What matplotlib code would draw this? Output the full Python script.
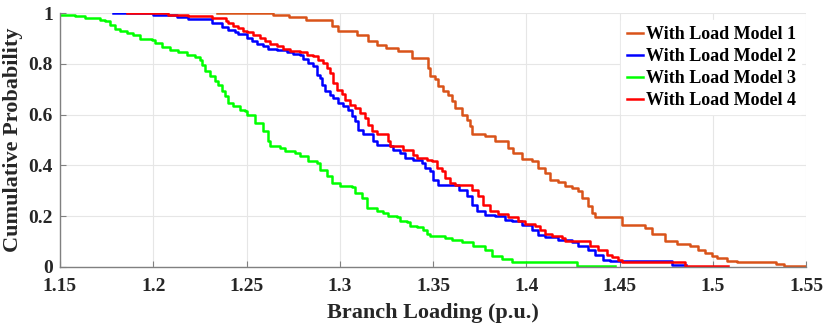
import matplotlib
matplotlib.use("Agg")
import matplotlib.pyplot as plt

# step points (branch loading, cumulative probability) for each load model
m1_x = [1.234, 1.264, 1.273, 1.282, 1.296, 1.299, 1.309, 1.315, 1.320, 1.325, 1.331, 1.339,
        1.3473, 1.3484, 1.3511, 1.3527, 1.3554, 1.3580, 1.3602, 1.3618, 1.3655, 1.3682, 1.3698,
        1.3709, 1.3779, 1.3832, 1.3902, 1.3929, 1.3977, 1.4031, 1.4063, 1.4101, 1.4127, 1.4170,
        1.4208, 1.4245, 1.4278, 1.4299, 1.4331, 1.4353, 1.4369, 1.4513, 1.4637, 1.4674, 1.4744,
        1.4808, 1.4878, 1.4921, 1.4958, 1.4996, 1.5020, 1.5076, 1.5130, 1.5340, 1.5380, 1.5500]
m1_y = [1.000, 0.991, 0.983, 0.974, 0.950, 0.930, 0.915, 0.890, 0.875, 0.862, 0.849, 0.823,
        0.783, 0.752, 0.741, 0.713, 0.693, 0.677, 0.654, 0.626, 0.598, 0.580, 0.555,
        0.524, 0.515, 0.495, 0.469, 0.449, 0.426, 0.416, 0.390, 0.370, 0.344, 0.333,
        0.318, 0.311, 0.298, 0.272, 0.239, 0.213, 0.196, 0.164, 0.154, 0.131, 0.101,
        0.091, 0.081, 0.068, 0.055, 0.042, 0.035, 0.025, 0.018, 0.012, 0.005, 0.005]

m2_x = [1.1784, 1.1999, 1.2127, 1.2186, 1.2315, 1.2369, 1.2401, 1.2438, 1.2454, 1.2503, 1.2529,
        1.2556, 1.2588, 1.2615, 1.2664, 1.2717, 1.2749, 1.2787, 1.2803, 1.2830, 1.2857, 1.2878,
        1.2894, 1.2905, 1.2921, 1.2948, 1.2964, 1.2991, 1.3017, 1.3044, 1.3066, 1.3082, 1.3098,
        1.3125, 1.3180, 1.3200, 1.3269, 1.3286, 1.3323, 1.3350, 1.3393, 1.3441, 1.3457, 1.3484,
        1.3500, 1.3527, 1.3640, 1.3682, 1.3709, 1.3736, 1.3779, 1.3832, 1.3886, 1.3924, 1.3977,
        1.4031, 1.4063, 1.4101, 1.4170, 1.4245, 1.4278, 1.4331, 1.4369, 1.4412, 1.4450, 1.4780,
        1.4855]
m2_y = [1.000, 0.991, 0.983, 0.976, 0.961, 0.944, 0.935, 0.925, 0.917, 0.902, 0.889,
        0.878, 0.869, 0.860, 0.853, 0.845, 0.839, 0.836, 0.820, 0.803, 0.790, 0.757,
        0.744, 0.718, 0.692, 0.678, 0.665, 0.646, 0.633, 0.619, 0.593, 0.574, 0.541,
        0.524, 0.495, 0.482, 0.475, 0.462, 0.449, 0.429, 0.422, 0.409, 0.390, 0.377,
        0.344, 0.324, 0.304, 0.278, 0.245, 0.219, 0.206, 0.199, 0.186, 0.180, 0.164,
        0.147, 0.127, 0.117, 0.107, 0.098, 0.081, 0.068, 0.048, 0.029, 0.022, 0.006,
        0.006]

m3_x = [1.1500, 1.1580, 1.1634, 1.1714, 1.1741, 1.1768, 1.1795, 1.1822, 1.1859, 1.1891, 1.1929,
        1.1993, 1.2009, 1.2047, 1.2090, 1.2133, 1.2181, 1.2224, 1.2251, 1.2261, 1.2277, 1.2304,
        1.2331, 1.2347, 1.2369, 1.2385, 1.2401, 1.2428, 1.2465, 1.2492, 1.2503, 1.2546, 1.2588,
        1.2615, 1.2626, 1.2680, 1.2706, 1.2760, 1.2787, 1.2830, 1.2878, 1.2894, 1.2932, 1.2958,
        1.3001, 1.3066, 1.3082, 1.3119, 1.3146, 1.3200, 1.3232, 1.3259, 1.3307, 1.3323, 1.3361,
        1.3377, 1.3414, 1.3446, 1.3468, 1.3484, 1.3564, 1.3602, 1.3656, 1.3714, 1.3779, 1.3816,
        1.3870, 1.3924, 1.4272, 1.4476]
m3_y = [0.993, 0.987, 0.980, 0.974, 0.967, 0.954, 0.938, 0.930, 0.921, 0.912, 0.899,
        0.895, 0.882, 0.865, 0.856, 0.846, 0.836, 0.826, 0.816, 0.797, 0.771, 0.751,
        0.731, 0.715, 0.694, 0.672, 0.646, 0.633, 0.619, 0.613, 0.600, 0.567, 0.534,
        0.495, 0.475, 0.469, 0.456, 0.449, 0.436, 0.419, 0.409, 0.383, 0.357, 0.331,
        0.318, 0.314, 0.291, 0.272, 0.232, 0.222, 0.213, 0.200, 0.196, 0.180, 0.177,
        0.160, 0.156, 0.147, 0.130, 0.121, 0.114, 0.107, 0.098, 0.081, 0.068, 0.042,
        0.033, 0.020, 0.005, 0.005]

m4_x = [1.1859, 1.2079, 1.2186, 1.2315, 1.2390, 1.2401, 1.2428, 1.2454, 1.2481, 1.2503, 1.2535,
        1.2572, 1.2599, 1.2626, 1.2664, 1.2696, 1.2733, 1.2787, 1.2824, 1.2857, 1.2883, 1.2910,
        1.2932, 1.2948, 1.2964, 1.2985, 1.3012, 1.3028, 1.3055, 1.3082, 1.3109, 1.3136, 1.3152,
        1.3173, 1.3200, 1.3259, 1.3270, 1.3339, 1.3393, 1.3414, 1.3468, 1.3495, 1.3522, 1.3548,
        1.3565, 1.3592, 1.3618, 1.3709, 1.3741, 1.3768, 1.3806, 1.3848, 1.3902, 1.3956, 1.3994,
        1.4047, 1.4074, 1.4101, 1.4138, 1.4192, 1.4208, 1.4299, 1.4342, 1.4385, 1.4433, 1.4460,
        1.4490, 1.4513, 1.4850, 1.5080]
m4_y = [1.000, 0.994, 0.987, 0.980, 0.970, 0.961, 0.948, 0.939, 0.931, 0.925, 0.915,
        0.902, 0.889, 0.879, 0.871, 0.860, 0.852, 0.846, 0.836, 0.829, 0.816, 0.803,
        0.783, 0.764, 0.724, 0.698, 0.681, 0.659, 0.639, 0.626, 0.606, 0.587, 0.560,
        0.534, 0.524, 0.495, 0.475, 0.462, 0.442, 0.429, 0.422, 0.416, 0.390, 0.377,
        0.350, 0.331, 0.324, 0.304, 0.278, 0.245, 0.219, 0.209, 0.196, 0.182, 0.169,
        0.160, 0.147, 0.130, 0.121, 0.114, 0.104, 0.101, 0.081, 0.068, 0.048, 0.038,
        0.029, 0.021, 0.004, 0.004]

labels = ['With Load Model 1', 'With Load Model 2', 'With Load Model 3', 'With Load Model 4']
colors = ['#D95319', '#0000FF', '#00FF00', '#FF0000']

plt.rcParams['font.family'] = ['Liberation Serif', 'DejaVu Serif']
plt.rcParams['font.weight'] = 'bold'

fig = plt.figure(figsize=(8.32, 3.25), dpi=100)
ax = fig.add_axes([0.0721, 0.1785, 0.8967, 0.7815])

series = [(m1_x, m1_y), (m2_x, m2_y), (m3_x, m3_y), (m4_x, m4_y)]
for (xs, ys), lab, c in zip(series, labels, colors):
    ax.step(xs, ys, where='post', color=c, lw=1.8, label=lab)

ax.set_xlim(1.15, 1.55)
ax.set_ylim(0, 1)
ax.set_xticks([1.15, 1.2, 1.25, 1.3, 1.35, 1.4, 1.45, 1.5, 1.55])
ax.set_xticklabels(['1.15', '1.2', '1.25', '1.3', '1.35', '1.4', '1.45', '1.5', '1.55'])
ax.set_yticks([0, 0.2, 0.4, 0.6, 0.8, 1])
ax.set_yticklabels(['0', '0.2', '0.4', '0.6', '0.8', '1'])
ax.grid(True, color='#e6e6e6', lw=0.8)
ax.set_axisbelow(True)

for s in ['top', 'right']:
    ax.spines[s].set_visible(False)
for s in ['left', 'bottom']:
    ax.spines[s].set_color('#808080')
    ax.spines[s].set_linewidth(1.0)
ax.tick_params(direction='in', length=4, color='#808080', labelsize=14)
ax.tick_params(axis='x', pad=8)
ax.tick_params(axis='y', pad=5)
for t in ax.get_xticklabels() + ax.get_yticklabels():
    t.set_fontweight('bold')
    t.set_color('#262626')

ax.set_xlabel('Branch Loading (p.u.)', fontsize=16, fontweight='bold', color='#262626', labelpad=6)
ax.set_ylabel('Cumulative Probability', fontsize=16, fontweight='bold', color='#262626', labelpad=4)

leg = ax.legend(loc='upper right', bbox_to_anchor=(0.998, 0.985), fontsize=13, frameon=True,
                handlelength=0.9, handletextpad=0.15, labelspacing=0.28, borderpad=0.3,
                borderaxespad=0.2)
leg.get_frame().set_edgecolor('white')
leg.get_frame().set_facecolor('white')
leg.get_frame().set_alpha(1.0)
leg.get_frame().set_boxstyle('square', pad=0)
for t in leg.get_texts():
    t.set_fontweight('bold')

fig.savefig('out.png', dpi=100)
